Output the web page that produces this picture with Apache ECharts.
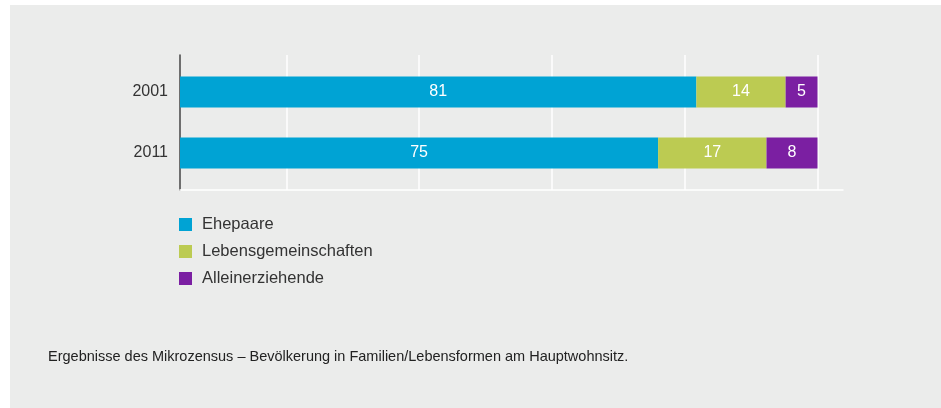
<!DOCTYPE html>
<html>
<head>
<meta charset="utf-8">
<script src="https://cdn.jsdelivr.net/npm/echarts@6/dist/echarts.min.js"></script>
<style>
  html, body { margin: 0; padding: 0; background: #fff; }
  #chart { width: 941px; height: 408px; }
</style>
</head>
<body>
<div id="chart"></div>
<script>
const years = ["2001", "2011"];
const ehepaare = [81, 75];
const lebensgemeinschaften = [14, 17];
const alleinerziehende = [5, 8];
const gridLines = [16.7, 37.5, 58.3, 79.2, 100];

const font = "'Liberation Sans', Arial, sans-serif";
const chart = echarts.init(document.getElementById("chart"));

const label = {
  show: true,
  position: "inside",
  color: "#fff",
  fontSize: 16,
  fontFamily: font
};

chart.setOption({
  animation: false,
  backgroundColor: "#fff",
  graphic: [
    {
      type: "rect",
      z: -10,
      silent: true,
      shape: { x: 10, y: 5, width: 931, height: 403 },
      style: { fill: "#ebeceb" }
    },
    {
      type: "text",
      left: 48,
      top: 349,
      style: {
        text: "Ergebnisse des Mikrozensus – Bevölkerung in Familien/Lebensformen am Hauptwohnsitz.",
        fill: "#222",
        font: "14.5px " + font
      }
    }
  ],
  legend: {
    orient: "vertical",
    left: 174,
    top: 211,
    itemWidth: 13,
    itemHeight: 13,
    itemGap: 10,
    icon: "rect",
    textStyle: { color: "#333", fontSize: 16.5, fontFamily: font, padding: [0, 0, 0, 5] },
    data: ["Ehepaare", "Lebensgemeinschaften", "Alleinerziehende"]
  },
  grid: [
    { left: 180, right: 98, top: 61.5, height: 122 },
    { left: 180, right: 98, top: 55, height: 135 }
  ],
  xAxis: [
    {
      type: "value",
      gridIndex: 0,
      min: 0,
      max: 104,
      axisLine: { show: false },
      axisTick: { show: false },
      axisLabel: { show: false },
      splitLine: { show: false }
    },
    {
      type: "value",
      gridIndex: 1,
      min: 0,
      max: 104,
      axisLine: { show: true, lineStyle: { color: "#fff", width: 1.5 } },
      axisTick: { show: false },
      axisLabel: { show: false },
      splitLine: { show: false }
    }
  ],
  yAxis: [
    {
      type: "category",
      gridIndex: 0,
      inverse: true,
      data: years,
      axisLine: { show: false },
      axisTick: { show: false },
      axisLabel: { color: "#333", fontSize: 16, fontFamily: font, margin: 12 }
    },
    {
      type: "value",
      gridIndex: 1,
      min: 0,
      max: 1,
      axisLine: { show: true, lineStyle: { color: "#444", width: 1.5 } },
      axisTick: { show: false },
      axisLabel: { show: false },
      splitLine: { show: false }
    }
  ],
  series: [
    {
      name: "Ehepaare",
      type: "bar",
      stack: "total",
      barWidth: 31,
      data: ehepaare,
      itemStyle: { color: "#00a3d4" },
      label: label,
      z: 3
    },
    {
      name: "Lebensgemeinschaften",
      type: "bar",
      stack: "total",
      data: lebensgemeinschaften,
      itemStyle: { color: "#bccb52" },
      label: label,
      z: 3
    },
    {
      name: "Alleinerziehende",
      type: "bar",
      stack: "total",
      data: alleinerziehende,
      itemStyle: { color: "#7b1fa2" },
      label: label,
      z: 3
    },
    {
      type: "line",
      xAxisIndex: 1,
      yAxisIndex: 1,
      data: [],
      silent: true,
      z: 1,
      markLine: {
        silent: true,
        z: 1,
        symbol: "none",
        label: { show: false },
        lineStyle: { color: "#fff", width: 1.5, type: "solid" },
        data: gridLines.map(v => ({ xAxis: v }))
      }
    }
  ]
});
</script>
</body>
</html>
